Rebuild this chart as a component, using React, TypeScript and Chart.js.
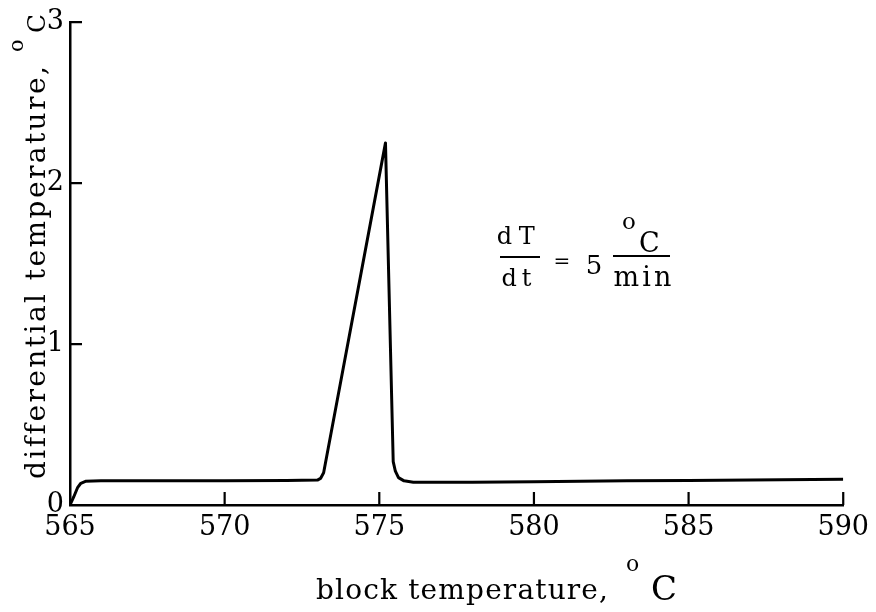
import React, { useEffect, useRef } from "react";
import { Chart, registerables } from "chart.js";

Chart.register(...registerables);

// ---- data ----
const blockTemperature = [
  565.0, 565.12, 565.25, 565.35, 565.5, 566.0, 568.0, 570.0, 572.0, 573.0,
  573.1, 573.2, 575.2, 575.45, 575.52, 575.62, 575.8, 576.1, 578.0,
  580.0, 583.0, 585.0, 588.0, 590.0,
];
const differentialTemperature = [
  0.0, 0.05, 0.11, 0.135, 0.147, 0.15, 0.15, 0.15, 0.152, 0.155,
  0.165, 0.2, 2.25, 0.27, 0.21, 0.17, 0.15, 0.142, 0.142,
  0.145, 0.15, 0.153, 0.157, 0.16,
];
const xTickValues = [565, 570, 575, 580, 585, 590];
const yTickValues = [0, 1, 2, 3];

// ---- texts ----
const xTitle = "block temperature,";
const yTitle = "differential temperature,";
const degreeMark = "o";
const unitC = "C";
const rateNumerator = "dT";
const rateDenominator = "dt";
const rateEquals = "=";
const rateValue = "5";
const rateUnitDen = "min";

const SERIF = '"DejaVu Serif", "Liberation Serif", serif';

function spacedText(
  ctx: CanvasRenderingContext2D,
  text: string,
  x: number,
  y: number,
  font: string,
  width?: number
) {
  ctx.font = font;
  (ctx as any).letterSpacing = "0px";
  const natural = ctx.measureText(text).width;
  if (width && text.length > 1) {
    const ls = (width - natural) / (text.length - 1);
    (ctx as any).letterSpacing = ls + "px";
  }
  ctx.fillText(text, x, y);
  (ctx as any).letterSpacing = "0px";
}

const overlayPlugin = {
  id: "overlay",
  afterDraw(chart: any) {
    const { ctx, chartArea, scales } = chart;
    const xs = scales.x;
    const ys = scales.y;
    ctx.save();
    ctx.strokeStyle = "#000";
    ctx.fillStyle = "#000";
    ctx.lineWidth = 2.2;

    // inward tick marks
    ctx.beginPath();
    xs.ticks.forEach((t: any) => {
      if (t.value === xs.min) return;
      const px = xs.getPixelForValue(t.value);
      ctx.moveTo(px, chartArea.bottom);
      ctx.lineTo(px, chartArea.bottom - 13);
    });
    ys.ticks.forEach((t: any) => {
      if (t.value === ys.min) return;
      const py = ys.getPixelForValue(t.value);
      ctx.moveTo(chartArea.left, py);
      ctx.lineTo(chartArea.left + 12, py);
    });
    ctx.stroke();

    ctx.textBaseline = "alphabetic";
    ctx.textAlign = "left";

    // x title
    spacedText(ctx, xTitle, 316, 599, `28px ${SERIF}`, 292);
    spacedText(ctx, degreeMark, 626, 571, `22px ${SERIF}`);
    spacedText(ctx, unitC, 651, 600, `34px ${SERIF}`);

    // y title (rotated)
    ctx.save();
    ctx.translate(45, 479);
    ctx.rotate(-Math.PI / 2);
    spacedText(ctx, yTitle, 0, 0, `28px ${SERIF}`, 412);
    spacedText(ctx, degreeMark, 427, -22, `21px ${SERIF}`);
    spacedText(ctx, unitC, 446, 0, `25px ${SERIF}`);
    ctx.restore();

    // annotation dT/dt = 5 oC/min
    ctx.textAlign = "center";
    spacedText(ctx, rateNumerator, 519, 244, `24px ${SERIF}`, 38);
    spacedText(ctx, rateDenominator, 519, 286, `24px ${SERIF}`, 30);
    spacedText(ctx, rateEquals, 562, 268, `20px ${SERIF}`);
    spacedText(ctx, rateValue, 594, 274, `26px ${SERIF}`);
    ctx.textAlign = "left";
    spacedText(ctx, degreeMark, 622, 229, `23px ${SERIF}`);
    spacedText(ctx, unitC, 639, 252, `27px ${SERIF}`);
    ctx.textAlign = "center";
    spacedText(ctx, rateUnitDen, 644, 286, `27px ${SERIF}`, 58);
    ctx.lineWidth = 2;
    ctx.beginPath();
    ctx.moveTo(500, 257);
    ctx.lineTo(540, 257);
    ctx.moveTo(613, 256);
    ctx.lineTo(670, 256);
    ctx.stroke();

    ctx.restore();
  },
};

export default function App() {
  const canvasRef = useRef<HTMLCanvasElement | null>(null);

  useEffect(() => {
    if (!canvasRef.current) return;
    const points = blockTemperature.map((x, i) => ({ x, y: differentialTemperature[i] }));
    const tickFont = { family: SERIF, size: 27 };
    const chart = new Chart(canvasRef.current, {
      type: "line",
      data: {
        datasets: [
          {
            data: points,
            borderColor: "#000",
            borderWidth: 3,
            pointRadius: 0,
            tension: 0,
            fill: false,
            borderJoinStyle: "round",
          },
        ],
      },
      options: {
        animation: false,
        responsive: true,
        maintainAspectRatio: false,
        layout: { padding: { left: 0, right: 32, top: 22, bottom: 0 } },
        plugins: {
          legend: { display: false },
          tooltip: { enabled: false },
          title: { display: false },
        },
        scales: {
          x: {
            type: "linear",
            min: 565,
            max: 590,
            afterBuildTicks: (scale: any) => {
              scale.ticks = xTickValues.map((v) => ({ value: v }));
            },
            ticks: {
              color: "#000",
              font: tickFont,
              padding: 7,
              maxRotation: 0,
              autoSkip: false,
            },
            grid: { display: false, drawTicks: false },
            border: { display: true, color: "#000", width: 2.5 },
            afterFit: (scale: any) => {
              scale.height = 107;
            },
          },
          y: {
            type: "linear",
            min: 0,
            max: 3,
            afterBuildTicks: (scale: any) => {
              scale.ticks = yTickValues.map((v) => ({ value: v }));
            },
            ticks: {
              color: "#000",
              font: tickFont,
              padding: 6,
              autoSkip: false,
            },
            grid: { display: false, drawTicks: false },
            border: { display: true, color: "#000", width: 2.5 },
            afterFit: (scale: any) => {
              scale.width = 70;
            },
          },
        },
      } as any,
      plugins: [overlayPlugin],
    });
    return () => chart.destroy();
  }, []);

  return (
    <div
      style={{
        position: "absolute",
        left: 0,
        top: 0,
        width: 876,
        height: 612,
        background: "#fff",
      }}
    >
      <canvas ref={canvasRef} />
    </div>
  );
}
